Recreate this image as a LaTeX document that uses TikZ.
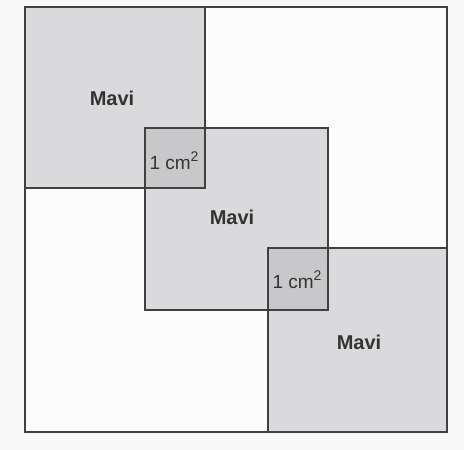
\documentclass[tikz,border=0pt]{standalone}
\usepackage{fontspec}
\setmainfont{Liberation Sans}
\newcommand{\sqsup}{\raisebox{0.42em}{\fontsize{14}{14}\selectfont 2}}
\begin{document}
\begin{tikzpicture}[x=1pt,y=-1pt,
  sq/.style={draw=black!75,line width=1.4pt,fill=sqgray},
  ov/.style={fill=ovgray},
  edge/.style={draw=black!75,line width=1.4pt},
  lbl/.style={font=\fontsize{20}{22}\selectfont\bfseries,text=black!80},
  unit/.style={font=\fontsize{19}{21}\selectfont,text=black!80,inner sep=0pt}]
\definecolor{sqgray}{RGB}{218,218,221}
\definecolor{ovgray}{RGB}{200,200,203}
\definecolor{bg}{RGB}{248,248,249}
\fill[bg] (0,0) rectangle (464,450);
\useasboundingbox (0,0) rectangle (464,450);
% outer square
\draw[edge,fill=white!60!bg] (25,7) rectangle (447,432);
% three squares
\path[sq] (25,7) rectangle (205,188);
\path[sq] (145,128) rectangle (328,310);
\path[sq] (268,248) rectangle (447,432);
% overlaps
\fill[ov] (145,128) rectangle (205,188);
\fill[ov] (268,248) rectangle (328,310);
% redraw borders
\draw[edge] (25,7) rectangle (205,188);
\draw[edge] (145,128) rectangle (328,310);
\draw[edge] (268,248) rectangle (447,432);
\draw[edge] (25,7) rectangle (447,432);
% labels
\node[lbl] (m1) at (112,98) {Mavi};
\node[lbl] (m2) at (232,217) {Mavi};
\node[lbl] (m3) at (359,342) {Mavi};
\node[unit] (c1) at (174,161) {1 cm\sqsup};
\node[unit] (c2) at (297,280) {1 cm\sqsup};
\end{tikzpicture}
\end{document}
